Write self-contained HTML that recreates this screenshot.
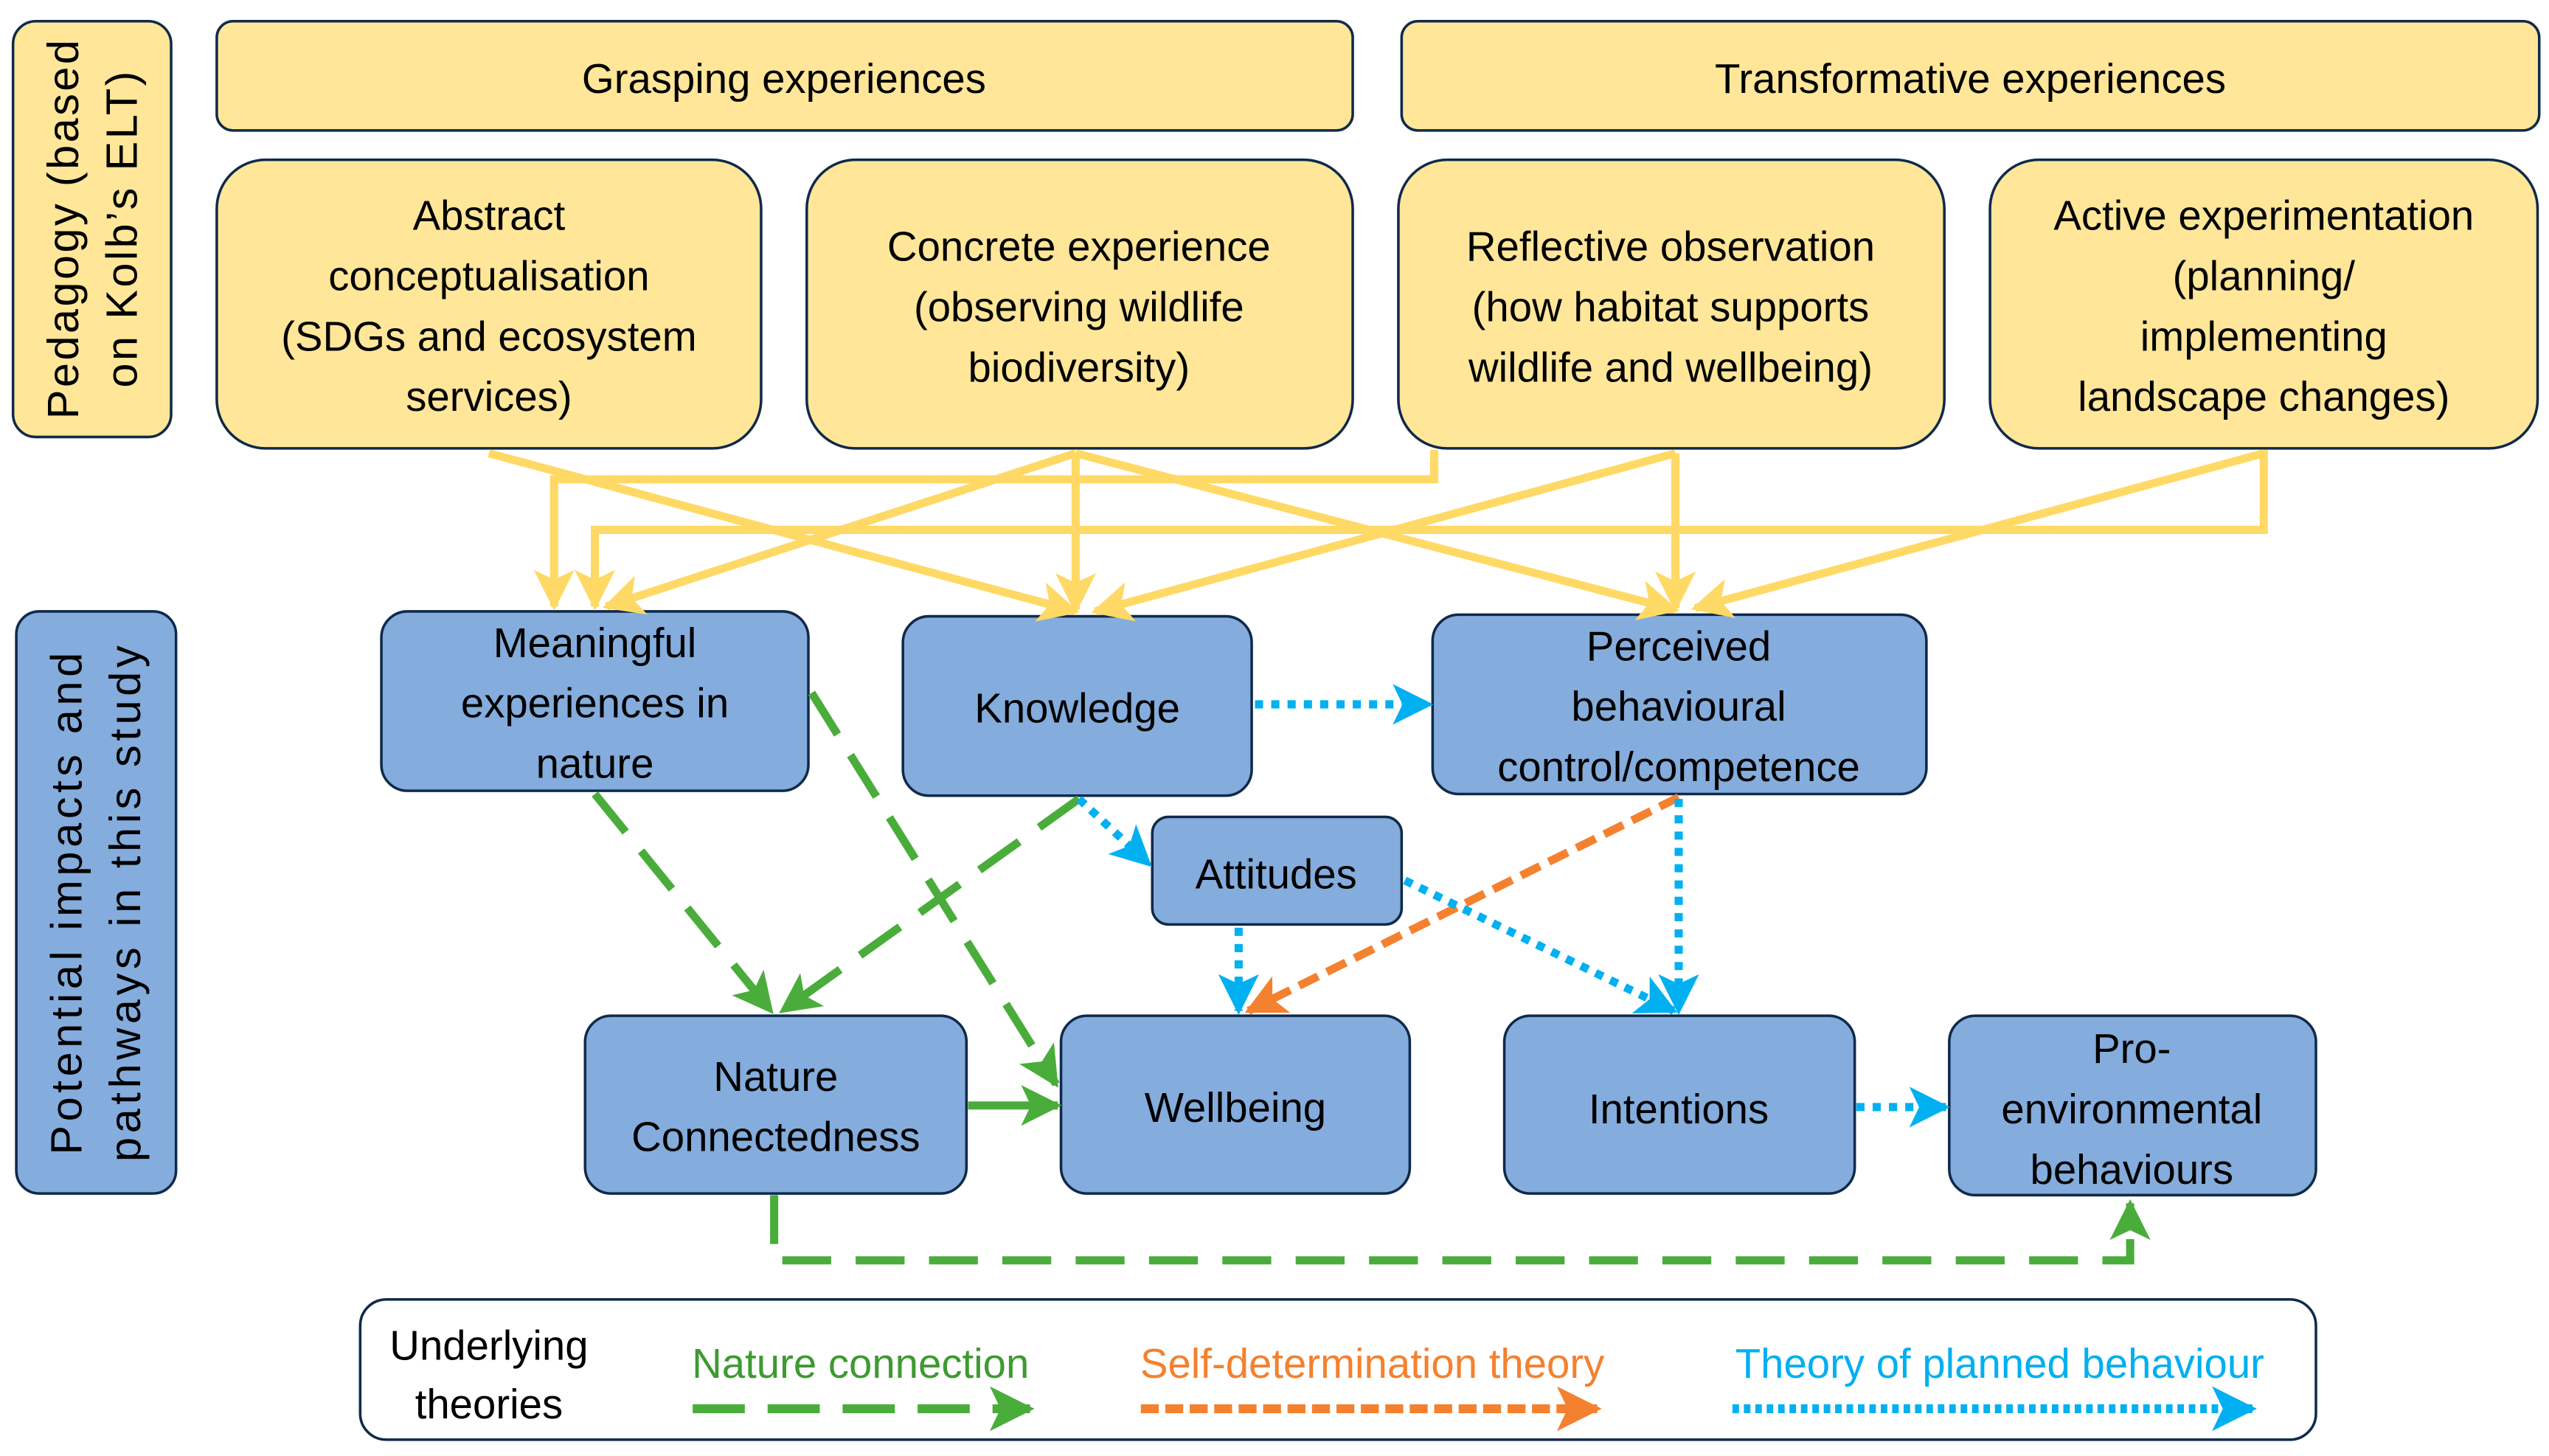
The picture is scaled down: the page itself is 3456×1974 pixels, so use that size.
<!DOCTYPE html>
<html><head><meta charset="utf-8"><style>
html,body{margin:0;padding:0;background:#fff;}
svg{display:block;}
text{font-family:"Liberation Sans",sans-serif;}
</style></head><body>
<svg width="3456" height="1974" viewBox="0 0 1564 893" preserveAspectRatio="none" xmlns="http://www.w3.org/2000/svg">
<defs>
<marker id="ay" markerWidth="5" markerHeight="5" refX="4.5" refY="2.5" orient="auto" markerUnits="strokeWidth"><path d="M0,0 L5,2.5 L0,5 L1.2,2.5 z" fill="#FFD966"/></marker>
<marker id="ag" markerWidth="5" markerHeight="5" refX="4.5" refY="2.5" orient="auto" markerUnits="strokeWidth"><path d="M0,0 L5,2.5 L0,5 L1.2,2.5 z" fill="#4AAD3B"/></marker>
<marker id="ao" markerWidth="5" markerHeight="5" refX="4.5" refY="2.5" orient="auto" markerUnits="strokeWidth"><path d="M0,0 L5,2.5 L0,5 L1.2,2.5 z" fill="#F4812F"/></marker>
<marker id="ab" markerWidth="5" markerHeight="5" refX="4.5" refY="2.5" orient="auto" markerUnits="strokeWidth"><path d="M0,0 L5,2.5 L0,5 L1.2,2.5 z" fill="#00B0F0"/></marker>
</defs>
<g stroke="#0F2A4A" stroke-width="1.6">
<rect x="8" y="13" width="97" height="255" rx="14" fill="#FFE699"/>
<rect x="133" y="13" width="697" height="67" rx="10" fill="#FFE699"/>
<rect x="860" y="13" width="698" height="67" rx="10" fill="#FFE699"/>
<rect x="133" y="98" width="334" height="177" rx="30" fill="#FFE699"/>
<rect x="495" y="98" width="335" height="177" rx="30" fill="#FFE699"/>
<rect x="858" y="98" width="335" height="177" rx="30" fill="#FFE699"/>
<rect x="1221" y="98" width="336" height="177" rx="30" fill="#FFE699"/>
<rect x="10" y="375" width="98" height="357" rx="14" fill="#84ACDC"/>
<rect x="234" y="375" width="262" height="110" rx="16" fill="#84ACDC"/>
<rect x="554" y="378" width="214" height="110" rx="16" fill="#84ACDC"/>
<rect x="879" y="377" width="303" height="110" rx="16" fill="#84ACDC"/>
<rect x="707" y="501" width="153" height="66" rx="10" fill="#84ACDC"/>
<rect x="359" y="623" width="234" height="109" rx="16" fill="#84ACDC"/>
<rect x="651" y="623" width="214" height="109" rx="16" fill="#84ACDC"/>
<rect x="923" y="623" width="215" height="109" rx="16" fill="#84ACDC"/>
<rect x="1196" y="623" width="225" height="110" rx="16" fill="#84ACDC"/>
<rect x="221" y="797" width="1200" height="86" rx="16" fill="#fff"/>
</g>
<g fill="none" stroke="#FFD966" stroke-width="5">
<path d="M880,276 V294 H340 V372" marker-end="url(#ay)"/>
<path d="M1389,276 V325 H365 V372" marker-end="url(#ay)"/>
<path d="M300,278 L660,375" marker-end="url(#ay)"/>
<path d="M660,278 L372,372" marker-end="url(#ay)"/>
<path d="M660,278 V374" marker-end="url(#ay)"/>
<path d="M660,278 L1028,374" marker-end="url(#ay)"/>
<path d="M1028,278 L672,375" marker-end="url(#ay)"/>
<path d="M1028,278 V373" marker-end="url(#ay)"/>
<path d="M1389,278 L1040,373" marker-end="url(#ay)"/>
</g>
<g fill="none" stroke="#4AAD3B" stroke-width="5" stroke-dasharray="30 15">
<path d="M365,487 L473,620" marker-end="url(#ag)"/>
<path d="M498,425 L648,665" marker-end="url(#ag)"/>
<path d="M662,490 L480,620" marker-end="url(#ag)"/>
<path d="M475,733 V773 H1307 V738" marker-end="url(#ag)"/>
</g>
<path d="M594,678 H649" stroke="#4AAD3B" stroke-width="5" marker-end="url(#ag)"/>
<path d="M1030,489 L766,620" fill="none" stroke="#F4812F" stroke-width="5" stroke-dasharray="13 6" marker-end="url(#ao)"/>
<g fill="none" stroke="#00B0F0" stroke-width="5" stroke-dasharray="5 5">
<path d="M770,432 H877" marker-end="url(#ab)"/>
<path d="M662,490 L705,530" marker-end="url(#ab)"/>
<path d="M760,569 V620" marker-end="url(#ab)"/>
<path d="M862,540 L1027,620" marker-end="url(#ab)"/>
<path d="M1030,490 V620" marker-end="url(#ab)"/>
<path d="M1139,679 H1194" marker-end="url(#ab)"/>
</g>
<g font-size="25.5" fill="#000" text-anchor="middle">
<text x="481" y="57">Grasping experiences</text>
<text x="1209" y="57">Transformative experiences</text>
<text x="300" y="141">Abstract</text>
<text x="300" y="178">conceptualisation</text>
<text x="300" y="215">(SDGs and ecosystem</text>
<text x="300" y="252">services)</text>
<text x="662" y="160">Concrete experience</text>
<text x="662" y="197">(observing wildlife</text>
<text x="662" y="234">biodiversity)</text>
<text x="1025" y="160">Reflective observation</text>
<text x="1025" y="197">(how habitat supports</text>
<text x="1025" y="234">wildlife and wellbeing)</text>
<text x="1389" y="141">Active experimentation</text>
<text x="1389" y="178">(planning/</text>
<text x="1389" y="215">implementing</text>
<text x="1389" y="252">landscape changes)</text>
<text x="365" y="403">Meaningful</text>
<text x="365" y="440">experiences in</text>
<text x="365" y="477">nature</text>
<text x="661" y="443">Knowledge</text>
<text x="1030" y="405">Perceived</text>
<text x="1030" y="442">behavioural</text>
<text x="1030" y="479">control/competence</text>
<text x="783" y="545">Attitudes</text>
<text x="476" y="669">Nature</text>
<text x="476" y="706">Connectedness</text>
<text x="758" y="688">Wellbeing</text>
<text x="1030" y="689">Intentions</text>
<text x="1308" y="652">Pro-</text>
<text x="1308" y="689">environmental</text>
<text x="1308" y="726">behaviours</text>
<text x="300" y="834">Underlying</text>
<text x="300" y="870">theories</text>
<text x="528" y="845" fill="#3E9A31">Nature connection</text>
<text x="842" y="845" fill="#F4812F">Self-determination theory</text>
<text x="1227" y="845" fill="#00B0F0">Theory of planned behaviour</text>
</g>
<g font-size="27" fill="#000" text-anchor="middle" letter-spacing="1.5">
<text transform="translate(48,140) rotate(-90)">Pedagogy (based</text>
<text transform="translate(84,140) rotate(-90)">on Kolb’s ELT)</text>
<text transform="translate(50,553) rotate(-90)" letter-spacing="2.5">Potential impacts and</text>
<text transform="translate(86,553) rotate(-90)" letter-spacing="2.5">pathways in this study</text>
</g>
<path d="M425,864 H632" stroke="#4AAD3B" stroke-width="5.5" stroke-dasharray="32 14" marker-end="url(#ag)"/>
<path d="M700,864 H980" stroke="#F4812F" stroke-width="5.5" stroke-dasharray="11 4" marker-end="url(#ao)"/>
<path d="M1063,864 H1382" stroke="#00B0F0" stroke-width="5.5" stroke-dasharray="4 3" marker-end="url(#ab)"/>
</svg>
</body></html>
